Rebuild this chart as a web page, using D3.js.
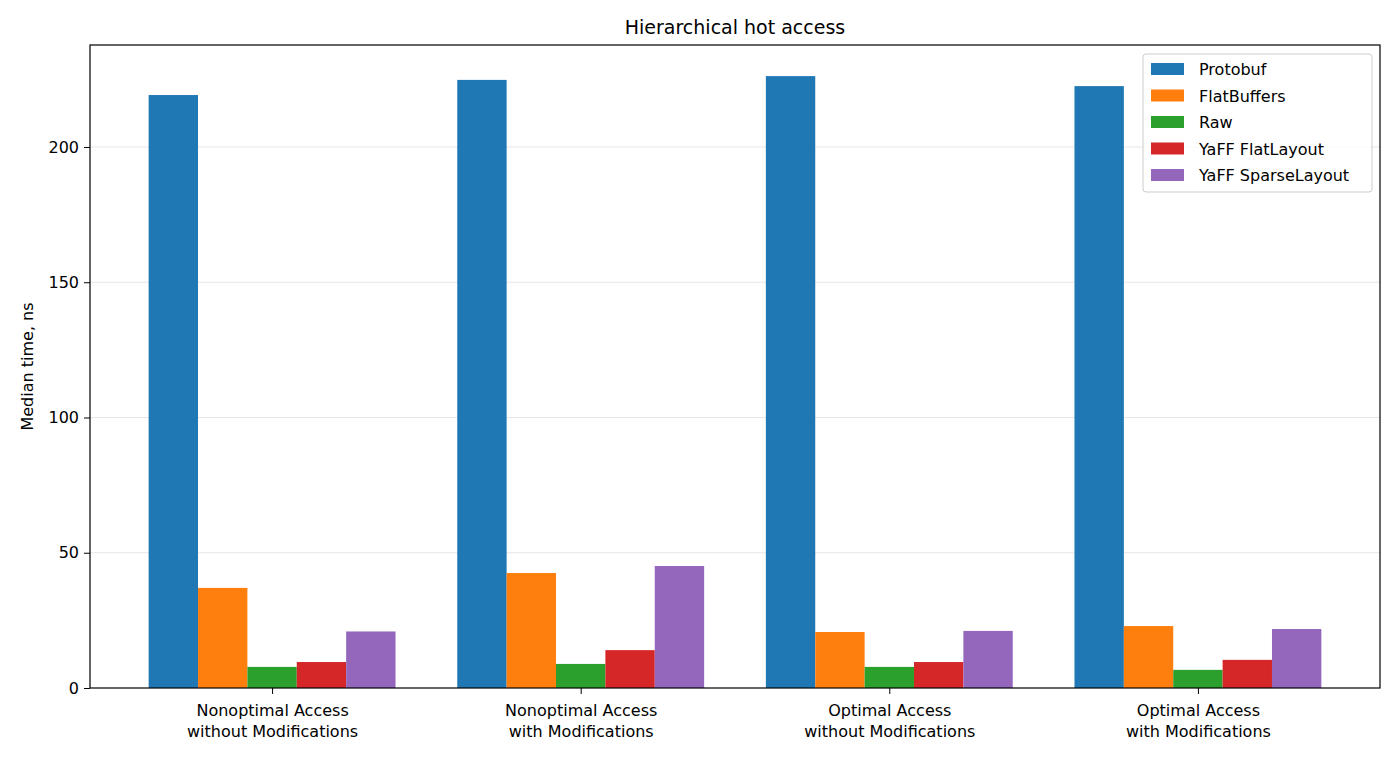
<!DOCTYPE html>
<html>
<head>
<meta charset="utf-8">
<script src="https://cdn.jsdelivr.net/npm/d3@7"></script>
<style>
  body { margin: 0; background: #fff; }
  text { font-family: "DejaVu Sans", sans-serif; fill: #000; }
</style>
</head>
<body>
<svg id="chart" width="1400" height="763"></svg>
<script>
  // data
  var categories = [
    ['Nonoptimal Access', 'without Modifications'],
    ['Nonoptimal Access', 'with Modifications'],
    ['Optimal Access', 'without Modifications'],
    ['Optimal Access', 'with Modifications']
  ];
  var seriesNames = ['Protobuf', 'FlatBuffers', 'Raw', 'YaFF FlatLayout', 'YaFF SparseLayout'];
  var seriesColors = ['#1f77b4', '#ff7f0e', '#2ca02c', '#d62728', '#9467bd'];
  var protobuf = [219.2, 224.8, 226.2, 222.5];
  var flatbuffers = [37.0, 42.5, 20.7, 22.9];
  var raw = [7.8, 8.9, 7.8, 6.7];
  var yaffFlat = [9.6, 14.0, 9.6, 10.4];
  var yaffSparse = [20.9, 45.1, 21.1, 21.8];
  var yTicks = [0, 50, 100, 150, 200];

  (function () {
    var series = [protobuf, flatbuffers, raw, yaffFlat, yaffSparse];
    var barW = 0.16;

    var svg = d3.select('#chart');
    var pl = 90, pr = 1380, pt = 45, pb = 688;

    var x = d3.scaleLinear().domain([-0.59, 3.59]).range([pl, pr]);
    var y = d3.scaleLinear().domain([0, 237.7]).range([pb, pt]);

    // grid
    svg.append('g').selectAll('line').data(yTicks.slice(1)).enter().append('line')
      .attr('x1', pl).attr('x2', pr)
      .attr('y1', function (d) { return y(d); }).attr('y2', function (d) { return y(d); })
      .attr('stroke', '#e6e6e6').attr('stroke-width', 1);

    // bars
    series.forEach(function (vals, s) {
      svg.append('g').selectAll('rect').data(vals).enter().append('rect')
        .attr('x', function (d, i) { return x(i + (s - 2) * barW - barW / 2); })
        .attr('width', x(barW) - x(0))
        .attr('y', function (d) { return y(d); })
        .attr('height', function (d) { return y(0) - y(d); })
        .attr('fill', seriesColors[s]);
    });

    // axes
    var yAxis = svg.append('g').attr('transform', 'translate(' + pl + ',0)')
      .call(d3.axisLeft(y).tickValues(yTicks).tickSize(6).tickPadding(5));
    yAxis.select('.domain').remove();
    yAxis.selectAll('text').style('font-size', '16px');

    var xAxis = svg.append('g').attr('transform', 'translate(0,' + pb + ')')
      .call(d3.axisBottom(x).tickValues([0, 1, 2, 3]).tickSize(6).tickFormat(''));
    xAxis.select('.domain').remove();
    xAxis.selectAll('.tick').each(function (d) {
      var t = d3.select(this).append('text').attr('text-anchor', 'middle').style('font-size', '16px');
      categories[d].forEach(function (line, k) {
        t.append('tspan').attr('x', 0).attr('y', 28 + k * 21).text(line);
      });
    });

    svg.append('rect').attr('x', pl).attr('y', pt)
      .attr('width', pr - pl).attr('height', pb - pt)
      .attr('fill', 'none').attr('stroke', '#000').attr('stroke-width', 1.2);

    svg.append('text').attr('x', (pl + pr) / 2).attr('y', 34)
      .attr('text-anchor', 'middle').style('font-size', '19px').text('Hierarchical hot access');

    svg.append('text').attr('transform', 'translate(33,' + ((pt + pb) / 2) + ') rotate(-90)')
      .attr('text-anchor', 'middle').style('font-size', '16px').text('Median time, ns');

    // legend
    var lg = svg.append('g').attr('transform', 'translate(1143,54)');
    lg.append('rect').attr('width', 229).attr('height', 138).attr('rx', 3)
      .attr('fill', '#fff').attr('fill-opacity', 0.8).attr('stroke', '#ccc');
    seriesNames.forEach(function (n, i) {
      lg.append('rect').attr('x', 8).attr('y', 9 + i * 26.5).attr('width', 33).attr('height', 12)
        .attr('fill', seriesColors[i]);
      lg.append('text').attr('x', 56).attr('y', 21 + i * 26.5).style('font-size', '16px').text(n);
    });
  })();
</script>
</body>
</html>
